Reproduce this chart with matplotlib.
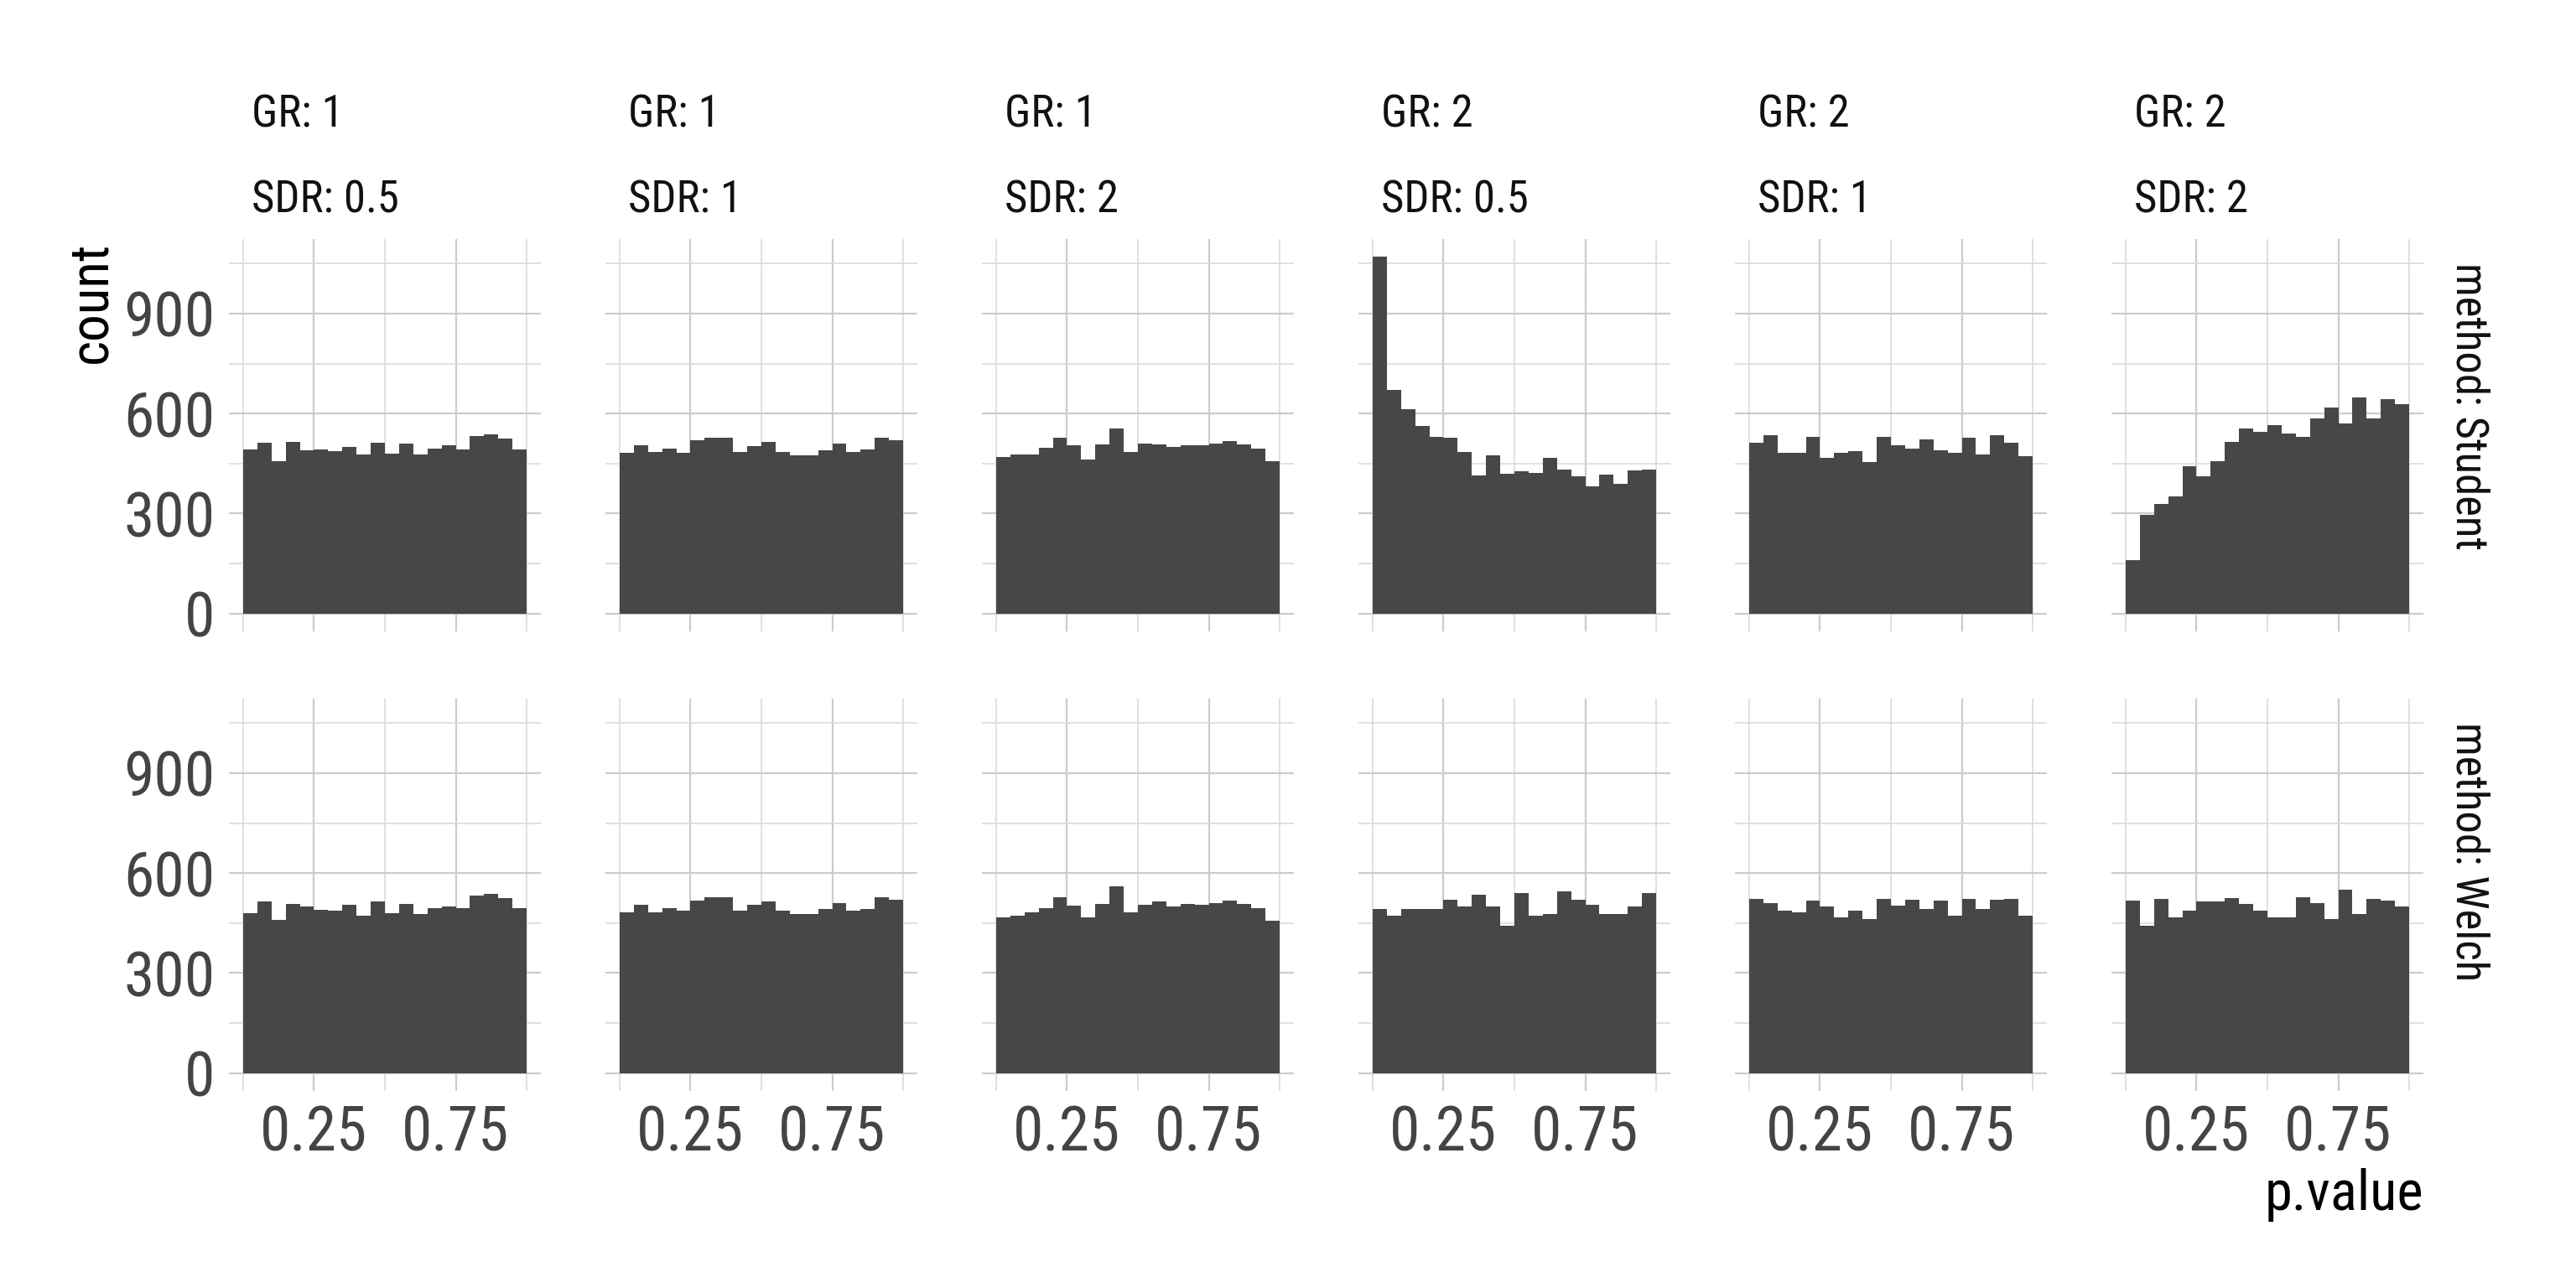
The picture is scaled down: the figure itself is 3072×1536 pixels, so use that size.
import numpy as np
import matplotlib.pyplot as plt
from matplotlib.ticker import FixedLocator

plt.rcParams['font.family'] = ['Roboto Condensed', 'Roboto', 'DejaVu Sans']

# facet levels
gr_levels = ["1", "1", "1", "2", "2", "2"]
sdr_levels = ["0.5", "1", "2", "0.5", "1", "2"]
methods = ["Student", "Welch"]

# 20 bins of width 0.05 on [0, 1]
bin_edges = np.linspace(0, 1, 21)

# counts per bin (one list per GR/SDR column)
student_counts = [
    [493, 513, 458, 515, 490, 493, 488, 500, 478, 513, 480, 510, 478, 495, 505, 493, 533, 538, 526, 493],
    [483, 505, 485, 495, 483, 520, 528, 528, 485, 503, 515, 485, 475, 475, 490, 510, 485, 493, 528, 520],
    [470, 478, 478, 498, 528, 505, 463, 508, 556, 485, 510, 508, 500, 505, 505, 510, 518, 508, 495, 458],
    [1070, 671, 613, 563, 531, 528, 485, 415, 475, 420, 428, 423, 468, 433, 413, 382, 418, 390, 430, 433],
    [512, 536, 483, 483, 531, 468, 483, 488, 455, 531, 505, 495, 523, 490, 483, 528, 478, 536, 513, 473],
    [160, 296, 330, 352, 443, 413, 458, 515, 556, 546, 566, 541, 531, 586, 618, 571, 649, 586, 644, 628],
]
welch_counts = [
    [480, 514, 459, 507, 500, 489, 486, 505, 472, 514, 480, 507, 477, 495, 501, 495, 532, 538, 525, 495],
    [481, 506, 483, 496, 486, 518, 528, 528, 486, 506, 516, 486, 476, 476, 491, 511, 486, 493, 528, 521],
    [468, 473, 481, 496, 528, 503, 466, 508, 559, 483, 506, 516, 501, 508, 506, 511, 518, 508, 496, 458],
    [493, 471, 491, 491, 491, 521, 501, 536, 501, 443, 539, 473, 476, 544, 521, 506, 478, 478, 501, 541],
    [523, 511, 488, 483, 518, 501, 468, 486, 461, 523, 503, 521, 491, 518, 473, 523, 491, 521, 523, 471],
    [518, 443, 523, 466, 488, 516, 516, 526, 508, 486, 468, 466, 528, 511, 461, 549, 478, 523, 518, 501],
]

W, H = 3072, 1536
fig = plt.figure(figsize=(W / 200, H / 200), dpi=200)


def frac(x0, y0, w, h):
    # pixel box (top-left origin) -> figure fraction
    return [x0 / W, 1 - (y0 + h) / H, w / W, h / H]


panel_left, panel_pitch, panel_w = 273, 449, 372
row_top, row_pitch, panel_h = 285, 548, 468

for r, counts_row in enumerate([student_counts, welch_counts]):
    for c in range(6):
        ax = fig.add_axes(frac(panel_left + panel_pitch * c, row_top + row_pitch * r, panel_w, panel_h))
        ax.bar(bin_edges[:-1], counts_row[c], width=np.diff(bin_edges), align='edge',
               color='#474747', linewidth=0, zorder=2)
        ax.set_xlim(-0.05, 1.05)
        ax.set_ylim(-53.5, 1123.5)
        ax.xaxis.set_major_locator(FixedLocator([0.25, 0.75]))
        ax.xaxis.set_minor_locator(FixedLocator([0, 0.5, 1]))
        ax.yaxis.set_major_locator(FixedLocator([0, 300, 600, 900]))
        ax.yaxis.set_minor_locator(FixedLocator([150, 450, 750, 1050]))
        ax.set_axisbelow(True)
        ax.grid(which='major', color='#cccccc', linewidth=0.8)
        ax.grid(which='minor', color='#dadada', linewidth=0.6)
        for s in ax.spines.values():
            s.set_visible(False)
        ax.tick_params(which='both', length=0, labelsize=26.5, labelcolor='#444444')
        ax.tick_params(axis='y', pad=6)
        ax.tick_params(axis='x', pad=5.5)
        if c > 0:
            ax.tick_params(labelleft=False)
        if r == 0:
            ax.tick_params(labelbottom=False)

        # top strips
        if r == 0:
            x_txt = (panel_left + 27 + panel_pitch * c) / W
            fig.text(x_txt, 1 - 151 / H, f"GR: {gr_levels[c]}", fontsize=19,
                     ha='left', va='baseline', color='#111111')
            fig.text(x_txt, 1 - 253 / H, f"SDR: {sdr_levels[c]}", fontsize=19,
                     ha='left', va='baseline', color='#111111')

    # right strips
    fig.text(2944 / W, 1 - (row_top + 28 + row_pitch * r) / H, f"method: {methods[r]}",
             fontsize=19, rotation=-90, ha='center', va='top', color='#111111')

# axis titles
fig.text(108 / W, 1 - 288 / H, "count", fontsize=23.5, rotation=90, ha='center', va='top')
fig.text(2890 / W, 1 - 1425 / H, "p.value", fontsize=24, ha='right', va='center')

fig.savefig("out.png", dpi=200, facecolor='white')
